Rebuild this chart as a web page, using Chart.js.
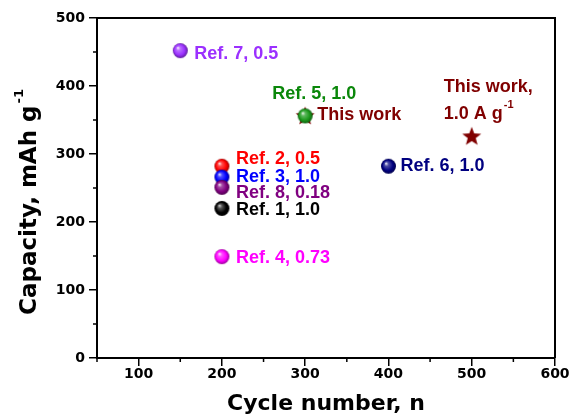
<!DOCTYPE html>
<html>
<head>
<meta charset="utf-8">
<script src="https://cdn.jsdelivr.net/npm/chart.js@4.4.1/dist/chart.umd.min.js"></script>
<style>
  html, body { margin: 0; padding: 0; background: #fff; }
  canvas { display: block; }
</style>
</head>
<body>
<canvas id="chart" width="572" height="420"></canvas>
<script>
// reference points (cycle number vs capacity), drawn in this order
const refNames = ['Ref. 7, 0.5', 'Ref. 5, 1.0', 'Ref. 2, 0.5', 'Ref. 3, 1.0', 'Ref. 8, 0.18', 'Ref. 1, 1.0', 'Ref. 4, 0.73', 'Ref. 6, 1.0'];
const refCycles = [150, 300, 200, 200, 200, 200, 200, 400];
const refCapacity = [452, 356, 282, 266, 251, 220, 149, 282];
const refColors = ['#9b30ff', '#1c9a1c', '#ff0000', '#0000ff', '#800080', '#000000', '#ff00ff', '#000080'];

// this work
const workCycles = [300, 500];
const workCapacity = [356, 326];
const workColor = '#800000';

const xMin = 50, xMax = 600;
const yMin = 0, yMax = 500;

// offsets of each label from its point (px)
const refLabelOffsets = [[14, 3], [-33, -22], [14, -7], [14, 0], [14, 6], [14, 2], [14, 1], [12, 0]];

function shade(hex, amt) {
  const n = parseInt(hex.slice(1), 16);
  let r = (n >> 16) & 255, g = (n >> 8) & 255, b = n & 255;
  const f = c => amt >= 0 ? Math.round(c + (255 - c) * amt) : Math.round(c * (1 + amt));
  return `rgb(${f(r)},${f(g)},${f(b)})`;
}

// little shaded ball used as point style
function makeSphere(color, r) {
  const c = document.createElement('canvas');
  c.width = c.height = Math.ceil(2 * r + 2);
  const ctx = c.getContext('2d');
  const cx = c.width / 2, cy = c.height / 2;
  const grad = ctx.createRadialGradient(cx - r * 0.35, cy - r * 0.4, 0, cx, cy, r);
  grad.addColorStop(0, color === '#000000' ? '#e0e0e0' : '#ffffff');
  grad.addColorStop(0.28, color === '#000000' ? '#555555' : shade(color, 0.3));
  grad.addColorStop(0.7, color);
  grad.addColorStop(1, shade(color, -0.4));
  ctx.fillStyle = grad;
  ctx.beginPath();
  ctx.arc(cx, cy, r, 0, Math.PI * 2);
  ctx.fill();
  return c;
}

function makeStar(color, R) {
  const c = document.createElement('canvas');
  c.width = c.height = 2 * R + 2;
  const ctx = c.getContext('2d');
  const cx = R + 1, cy = R + 1.5, r = R * 0.42;
  ctx.beginPath();
  for (let i = 0; i < 10; i++) {
    const a = -Math.PI / 2 + i * Math.PI / 5;
    const rr = i % 2 === 0 ? R : r;
    ctx.lineTo(cx + rr * Math.cos(a), cy + rr * Math.sin(a));
  }
  ctx.closePath();
  ctx.fillStyle = color;
  ctx.fill();
  return c;
}

const spheres = refColors.map(col => makeSphere(col, 7.5));
const star = makeStar(workColor, 10);

const labelFont = 'bold 18px "Liberation Sans", Arial, sans-serif';

const extrasPlugin = {
  id: 'extras',
  afterDraw(chart) {
    const { ctx, chartArea, scales } = chart;
    const x = scales.x, y = scales.y;
    ctx.save();

    // frame top / right
    ctx.strokeStyle = '#000';
    ctx.lineWidth = 2;
    ctx.beginPath();
    ctx.moveTo(chartArea.left - 1, chartArea.top);
    ctx.lineTo(chartArea.right, chartArea.top);
    ctx.lineTo(chartArea.right, chartArea.bottom);
    ctx.stroke();

    // minor ticks
    ctx.lineWidth = 1.5;
    ctx.beginPath();
    x.ticks.forEach(t => {
      if (t.value % 100 !== 0) {
        const px = x.getPixelForValue(t.value);
        ctx.moveTo(px, chartArea.bottom);
        ctx.lineTo(px, chartArea.bottom + 4);
      }
    });
    y.ticks.forEach(t => {
      if (t.value % 100 !== 0) {
        const py = y.getPixelForValue(t.value);
        ctx.moveTo(chartArea.left, py);
        ctx.lineTo(chartArea.left - 4, py);
      }
    });
    ctx.stroke();

    // point labels
    ctx.font = labelFont;
    ctx.textBaseline = 'middle';
    ctx.textAlign = 'left';
    refNames.forEach((name, i) => {
      const px = x.getPixelForValue(refCycles[i]);
      const py = y.getPixelForValue(refCapacity[i]);
      const off = refLabelOffsets[i];
      ctx.fillStyle = refColors[i] === '#1c9a1c' ? '#0a870a' : refColors[i];
      ctx.fillText(name, px + off[0], py + off[1]);
    });

    ctx.fillStyle = workColor;
    let px = x.getPixelForValue(workCycles[0]);
    let py = y.getPixelForValue(workCapacity[0]);
    ctx.fillText('This work', px + 12, py - 1);

    px = x.getPixelForValue(workCycles[1]);
    py = y.getPixelForValue(workCapacity[1]);
    ctx.fillText('This work,', px - 28, py - 49);
    const line2 = '1.0 A g';
    ctx.fillText(line2, px - 28, py - 22);
    const w2 = ctx.measureText(line2).width;
    ctx.font = 'bold 11px "Liberation Sans", Arial, sans-serif';
    ctx.fillText('-1', px - 28 + w2 + 1, py - 31);

    // y axis title with superscript
    const mainTxt = 'Capacity, mAh g';
    const supTxt = '-1';
    ctx.translate(30, 202);
    ctx.rotate(-Math.PI / 2);
    ctx.fillStyle = '#000';
    ctx.font = 'bold 23px "DejaVu Sans", sans-serif';
    const wm = ctx.measureText(mainTxt).width;
    ctx.font = 'bold 13px "DejaVu Sans", sans-serif';
    const ws = ctx.measureText(supTxt).width;
    const start = -(wm + ws + 2) / 2;
    ctx.font = 'bold 23px "DejaVu Sans", sans-serif';
    ctx.fillText(mainTxt, start, 0);
    ctx.font = 'bold 13px "DejaVu Sans", sans-serif';
    ctx.fillText(supTxt, start + wm + 2, -10);

    ctx.restore();
  }
};

const tickFont = { family: 'DejaVu Sans', size: 14, weight: 'bold' };
const majorTickColor = c => (c.tick && c.tick.value % 100 === 0) ? '#000' : 'rgba(0,0,0,0)';

new Chart(document.getElementById('chart'), {
  type: 'scatter',
  data: {
    datasets: [
      {
        label: 'References',
        data: refCycles.map((c, i) => ({ x: c, y: refCapacity[i] })),
        pointStyle: spheres,
        pointRadius: 7,
        clip: false
      },
      {
        label: 'This work',
        data: workCycles.map((c, i) => ({ x: c, y: workCapacity[i] })),
        pointStyle: star,
        pointRadius: 10,
        clip: false
      }
    ]
  },
  options: {
    responsive: false,
    animation: false,
    layout: { padding: { top: 18, right: 17, left: 0, bottom: 0 } },
    plugins: {
      legend: { display: false },
      tooltip: { enabled: false }
    },
    scales: {
      x: {
        type: 'linear',
        min: xMin,
        max: xMax,
        afterFit: s => { s.height = 62; },
        border: { color: '#000', width: 2 },
        grid: { drawOnChartArea: false, tickLength: 8, lineWidth: 1.5, color: majorTickColor },
        ticks: {
          stepSize: 50,
          autoSkip: false,
          maxRotation: 0,
          padding: 0,
          color: '#000',
          font: tickFont,
          callback: v => (v % 100 === 0 ? v : '')
        },
        title: {
          display: true,
          text: 'Cycle number, n',
          color: '#000',
          font: { family: 'DejaVu Sans', size: 22, weight: 'bold' },
          padding: { top: 0, bottom: 3 }
        }
      },
      y: {
        type: 'linear',
        min: yMin,
        max: yMax,
        afterFit: s => { s.width = 97; },
        border: { color: '#000', width: 2 },
        grid: { drawOnChartArea: false, tickLength: 8, lineWidth: 1.5, color: majorTickColor },
        ticks: {
          stepSize: 50,
          autoSkip: false,
          padding: 4,
          color: '#000',
          font: tickFont,
          callback: v => (v % 100 === 0 ? v : '')
        }
      }
    }
  },
  plugins: [extrasPlugin]
});
</script>
</body>
</html>
